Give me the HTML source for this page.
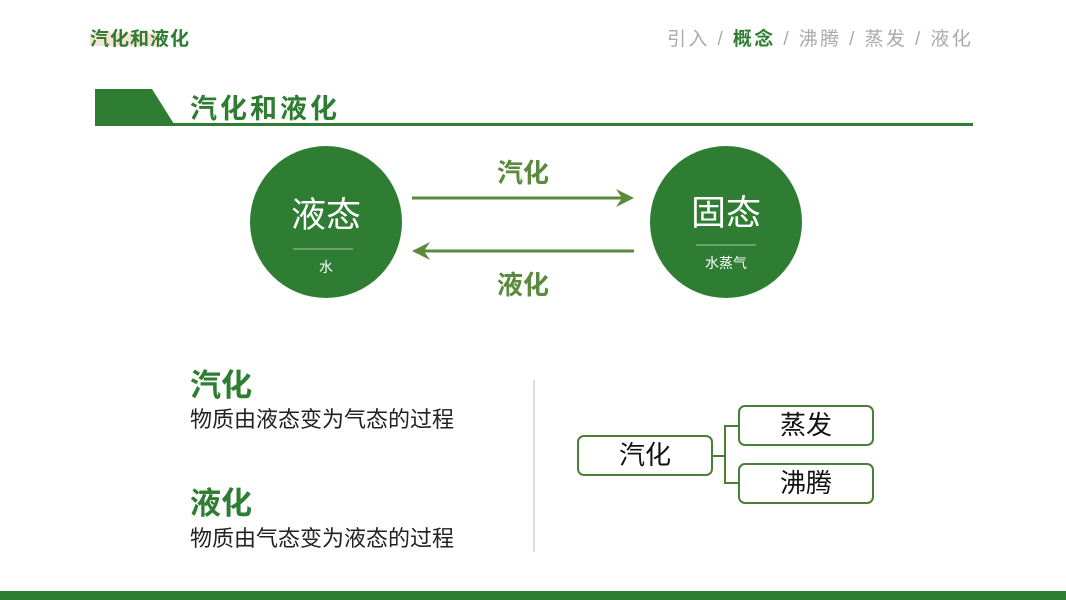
<!DOCTYPE html>
<html><head><meta charset="utf-8"><style>
*{margin:0;padding:0;box-sizing:border-box}
body{width:1066px;height:600px;background:#fff;position:relative;overflow:hidden;font-family:"Liberation Sans","Noto Sans CJK SC",sans-serif}
.a{position:absolute;white-space:nowrap}
.box{position:absolute;border:2px solid #4a7f3a;border-radius:7px;background:#fff;font-size:26px;color:#111;text-align:center}
</style></head><body>
<div class="a" style="left:90px;top:33px;width:70px;height:13px;background:#f5dcc8;opacity:.8"></div>
<div class="a" style="left:90px;top:24px;font-size:19px;font-weight:bold;color:#2e7d32;letter-spacing:1px">汽化和液化</div>
<div class="a" style="left:667px;top:24px;font-size:19px;color:#aaa;letter-spacing:2.4px">引入 / <b style="color:#2e7d32">概念</b> / 沸腾 / 蒸发 / 液化</div>
<svg class="a" style="left:0;top:0" width="1066" height="600">
<polygon points="95,89 152,89 174,124 95,124" fill="#2e7d32"/>
<rect x="95" y="123" width="878" height="3" fill="#2e7d32"/>
<circle cx="326" cy="222" r="76" fill="#2e7d32"/>
<circle cx="726" cy="222" r="76" fill="#2e7d32"/>
<line x1="293" y1="249" x2="353" y2="249" stroke="#a6c9a0" stroke-width="1"/>
<line x1="696" y1="245" x2="756" y2="245" stroke="#a6c9a0" stroke-width="1"/>
<line x1="412" y1="198" x2="628" y2="198" stroke="#5b8a3c" stroke-width="3"/>
<polygon points="616,189 634,198 616,207 622,198" fill="#5b8a3c"/>
<line x1="418" y1="251" x2="634" y2="251" stroke="#5b8a3c" stroke-width="3"/>
<polygon points="430,242 412,251 430,260 424,251" fill="#5b8a3c"/>
<line x1="534" y1="380" x2="534" y2="552" stroke="#bbb" stroke-width="1"/>
<polyline points="712,456 725,456" fill="none" stroke="#4a7f3a" stroke-width="2"/>
<polyline points="739,426 725,426 725,483 739,483" fill="none" stroke="#4a7f3a" stroke-width="2"/>
<rect x="0" y="591" width="1066" height="9" fill="#2e7d32"/>
</svg>
<div class="a" style="left:190px;top:87px;font-size:27px;font-weight:bold;color:#2e7d32;letter-spacing:3px">汽化和液化</div>
<div class="a" style="left:250px;top:196px;width:152px;text-align:center;font-size:35px;color:#fff;line-height:40px">液态</div>
<div class="a" style="left:250px;top:257px;width:152px;text-align:center;font-size:14px;color:#fff">水</div>
<div class="a" style="left:650px;top:194px;width:152px;text-align:center;font-size:35px;color:#fff;line-height:40px">固态</div>
<div class="a" style="left:650px;top:253px;width:152px;text-align:center;font-size:14px;color:#fff">水蒸气</div>
<div class="a" style="left:497px;top:153px;font-size:26px;font-weight:bold;color:#5b8a3c">汽化</div>
<div class="a" style="left:497px;top:265px;font-size:26px;font-weight:bold;color:#5b8a3c">液化</div>
<div class="a" style="left:190px;top:360px;font-size:31px;font-weight:bold;color:#2e7d32">汽化</div>
<div class="a" style="left:190px;top:402px;font-size:22px;color:#222">物质由液态变为气态的过程</div>
<div class="a" style="left:190px;top:478px;font-size:31px;font-weight:bold;color:#2e7d32">液化</div>
<div class="a" style="left:190px;top:521px;font-size:22px;color:#222">物质由气态变为液态的过程</div>
<div class="box" style="left:577px;top:435px;width:136px;height:41px;line-height:37px">汽化</div>
<div class="box" style="left:738px;top:405px;width:136px;height:41px;line-height:37px">蒸发</div>
<div class="box" style="left:738px;top:463px;width:136px;height:41px;line-height:37px">沸腾</div>
</body></html>
